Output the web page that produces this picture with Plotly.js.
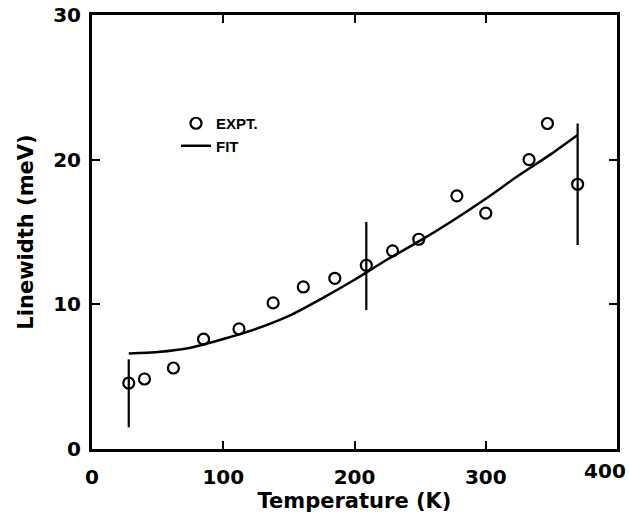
<!DOCTYPE html>
<html>
<head>
<meta charset="utf-8">
<script src="https://cdn.plot.ly/plotly-3.0.1.min.js"></script>
<style>html,body{margin:0;padding:0;background:#fff;}#chart{width:629px;height:513px;}</style>
</head>
<body>
<div id="chart"></div>
<script>
// Experimental points
var exptT = [28, 40, 62, 85, 112, 138, 161, 185, 209, 229, 249, 278, 300, 333, 347, 370];
var exptW = [4.56, 4.84, 5.6, 7.6, 8.3, 10.1, 11.2, 11.8, 12.7, 13.7, 14.5, 17.5, 16.3, 20.0, 22.5, 18.3];
// Error bars (only on three points)
var errPlus  = [1.64, null, null, null, null, null, null, null, 3.0, null, null, null, null, null, null, 4.2];
var errMinus = [3.06, null, null, null, null, null, null, null, 3.1, null, null, null, null, null, null, 4.2];
// Fit curve
var fitT = [28, 50, 75, 100, 125, 150, 175, 200, 225, 250, 275, 300, 325, 350, 370];
var fitW = [6.6, 6.7, 7.0, 7.6, 8.3, 9.2, 10.4, 11.7, 13.1, 14.4, 15.8, 17.3, 18.9, 20.4, 21.7];
// Ticks
var xTicks = [0, 100, 200, 300, 400];
var xTickText = ['0', '100', '200', '300', ''];
var xEndTick = [400];
var xEndText = ['400'];
var yTicks = [0, 10, 20, 30];

var font = "'DejaVu Sans', Verdana, sans-serif";
var legendFont = "'Liberation Sans', Arial, sans-serif";

var traces = [
  {
    x: exptT, y: exptW, type: 'scatter', mode: 'markers', name: 'EXPT.',
    marker: {symbol: 'circle-open', size: 11, color: '#000', line: {width: 2.2, color: '#000'}},
    error_y: {type: 'data', symmetric: false, array: errPlus, arrayminus: errMinus,
              color: '#000', thickness: 2.2, width: 0}
  },
  {
    x: fitT, y: fitW, type: 'scatter', mode: 'lines', name: 'FIT',
    line: {color: '#000', width: 2.5, shape: 'spline', smoothing: 0.6}
  },
  // empty trace that only activates the label axis for the end tick "400"
  {
    x: [], y: [], xaxis: 'x2', yaxis: 'y', type: 'scatter', mode: 'markers',
    showlegend: false, hoverinfo: 'skip'
  }
];

var tickFont = {family: font, size: 20, color: '#000', weight: 'bold'};
var axisCommon = {
  showgrid: false, zeroline: false, showline: true, mirror: 'ticks',
  linecolor: '#000', linewidth: 3, ticks: 'inside', ticklen: 8, tickwidth: 2,
  tickcolor: '#000', tickfont: tickFont
};

var layout = {
  width: 629, height: 513,
  margin: {l: 92, r: 12, t: 15, b: 64},
  paper_bgcolor: '#fff', plot_bgcolor: '#fff',
  showlegend: true,
  legend: {x: 0.16, y: 0.788, xanchor: 'left', yanchor: 'top', bgcolor: 'rgba(0,0,0,0)',
           font: {family: legendFont, size: 15, color: '#000', weight: 'bold'},
           itemwidth: 30},
  xaxis: Object.assign({}, axisCommon, {
    range: [0, 400], tickvals: xTicks, ticktext: xTickText, ticklabelstandoff: 8,
    title: {text: 'Temperature (K)', standoff: 0, font: {family: font, size: 21, color: '#000', weight: 'bold'}}
  }),
  // label-only axis so the end label "400" sits inside the page, as in the reference
  xaxis2: {
    overlaying: 'x', side: 'bottom', anchor: 'y', range: [0, 409.4], fixedrange: true,
    showgrid: false, zeroline: false, showline: false, ticks: '',
    tickvals: xEndTick, ticktext: xEndText, ticklabelstandoff: 8, tickfont: tickFont
  },
  yaxis: Object.assign({}, axisCommon, {
    range: [0, 30], tickvals: yTicks, ticktext: yTicks.map(String), ticklabelstandoff: 4,
    title: {text: 'Linewidth (meV)', standoff: 14, font: {family: font, size: 21, color: '#000', weight: 'bold'}}
  })
};

Plotly.newPlot('chart', traces, layout, {displayModeBar: false, staticPlot: true});
</script>
</body>
</html>
